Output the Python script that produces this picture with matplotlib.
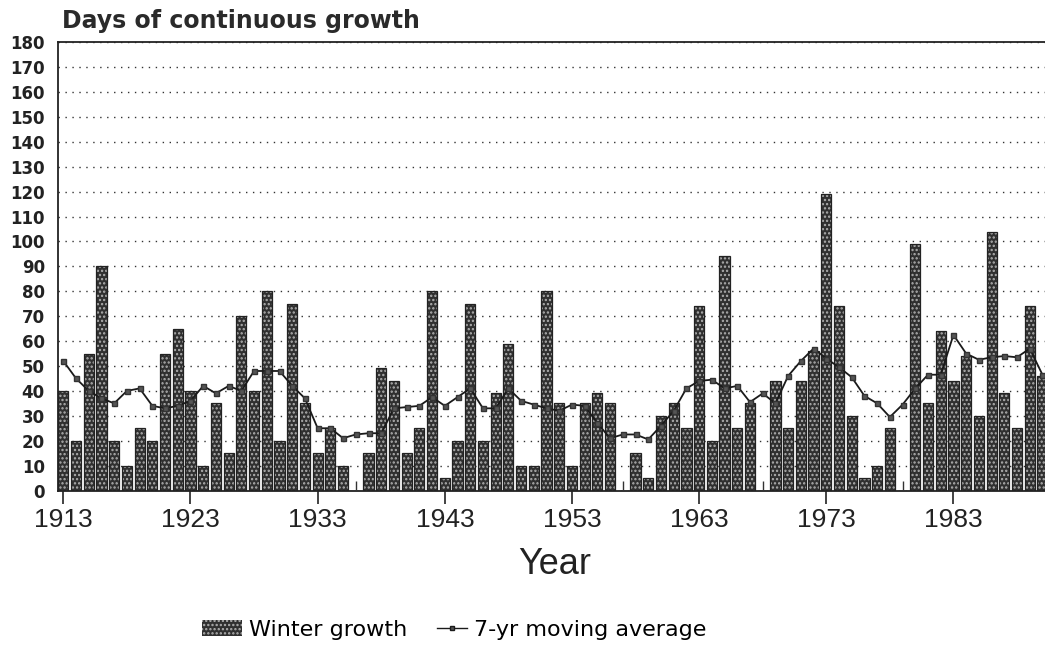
"""Winter growth: days of continuous growth per year with 7-yr moving average."""

import numpy as np
import matplotlib
matplotlib.use('Agg')
import matplotlib.pyplot as plt
from matplotlib.patches import Patch
from matplotlib.lines import Line2D

plt.rcParams['font.family'] = ['Liberation Sans', 'DejaVu Sans']
plt.rcParams['hatch.linewidth'] = 1.1

years = np.arange(1913, 1991)

winter_growth = [
    40, 20, 55, 90, 20, 10, 25, 20, 55, 65,   # 1913-1922
    40, 10, 35, 15, 70, 40, 80, 20, 75, 35,   # 1923-1932
    15, 25, 10, 0, 15, 49, 44, 15, 25, 80,    # 1933-1942
    5, 20, 75, 20, 39, 59, 10, 10, 80, 35,    # 1943-1952
    10, 35, 39, 35, 0, 15, 5, 30, 35, 25,     # 1953-1962
    74, 20, 94, 25, 35, 0, 44, 25, 44, 56,    # 1963-1972
    119, 74, 30, 5, 10, 25, 0, 99, 35, 64,    # 1973-1982
    44, 54, 30, 104, 39, 25, 74, 46,          # 1983-1990
]

moving_avg = [
    52, 45, 40, 37, 35, 40, 41, 34, 33, 34,
    36, 42, 39, 42, 40, 48, 48, 48, 42, 37,
    25, 25, 21, 22.5, 23, 23, 33, 33.5, 34, 37.5,
    34, 37.5, 41, 33, 33, 41, 36, 34.5, 33, 32,
    34.5, 34, 27, 21, 22.5, 22.5, 20.5, 26, 32, 41,
    44, 44.5, 41, 42, 35.5, 39, 35, 46, 52, 57,
    53, 49.5, 45.5, 38, 35, 29.5, 34.5, 41, 46.5, 46.5,
    62.5, 55, 52.5, 53.5, 54, 53.5, 57, 46.5,
]

tick_years = [1913, 1923, 1933, 1943, 1953, 1963, 1973, 1983]

BAR_FACE = '#303030'
BAR_DOTS = '#b0b0b0'
WIDE = ['DejaVu Sans']


def main() -> None:
    W, H = 1045, 659
    fig = plt.figure(figsize=(W / 100, H / 100), dpi=100)
    ax = fig.add_axes([58 / W, 1 - 490.5 / H, (W - 58) / W, (490.5 - 42.3) / H])

    vals = np.array(winter_growth, dtype=float)
    ax.bar(years, vals, width=0.8, color=BAR_FACE, edgecolor=BAR_DOTS,
           hatch='....', linewidth=0, zorder=2)
    ax.bar(years, vals, width=0.8, fill=False, edgecolor='#222222',
           linewidth=0.9, zorder=3)
    # zero years are marked with a short stub in the original
    zero_years = years[vals == 0]
    ax.vlines(zero_years, 0, 4, color='#333333', linewidth=1.0, zorder=3)

    ax.plot(years, moving_avg, color='#1a1a1a', linewidth=1.3, marker='s',
            markersize=3.6, markerfacecolor='#555555', markeredgecolor='#333333',
            zorder=4)

    ax.set_xlim(1912.58, 1990.2)
    ax.set_ylim(0, 180)
    ax.set_yticks(np.arange(0, 181, 10))
    ax.set_xticks(tick_years)
    ax.set_xticklabels([str(y) for y in tick_years], fontsize=19, color='#222222')
    ax.tick_params(axis='x', length=9.5, width=1.2, direction='out', pad=3,
                   colors='#222222')
    ax.tick_params(axis='y', length=0, pad=9.5, colors='#222222')
    for lab in ax.get_yticklabels():
        lab.set_fontweight('bold')
        lab.set_fontfamily(WIDE)
        lab.set_fontsize(12)

    ax.yaxis.grid(True, linestyle=(0, (1, 4)), linewidth=1.0, color='#333333')
    ax.set_axisbelow(True)
    ax.spines['right'].set_visible(False)
    for side in ('left', 'bottom', 'top'):
        ax.spines[side].set_linewidth(1.3)
        ax.spines[side].set_color('#222222')

    fig.text(62 / W, 1 - 28 / H, 'Days of continuous growth', fontsize=17,
             fontweight='bold', family=WIDE, color='#2a2a2a', ha='left',
             va='baseline')
    fig.text(555 / W, 1 - 565 / H, 'Year', fontsize=26, color='#222222',
             ha='center', va='center')

    bar_handle = Patch(facecolor=BAR_FACE, edgecolor=BAR_DOTS, hatch='....',
                       linewidth=0)
    line_handle = Line2D([], [], color='#1a1a1a', linewidth=1.0, marker='s',
                         markersize=3, markerfacecolor='#555555')
    common = dict(loc='center left', frameon=False, borderpad=0,
                  borderaxespad=0, prop={'family': WIDE, 'size': 16})
    fig.legend([bar_handle], ['Winter growth'],
               bbox_to_anchor=(202 / W, 1 - 630 / H), handlelength=1.8,
               handleheight=0.7, handletextpad=0.3, **common)
    fig.legend([line_handle], ['7-yr moving average'],
               bbox_to_anchor=(437 / W, 1 - 630 / H), handlelength=1.35,
               handletextpad=0.3, **common)

    fig.savefig('out.png', dpi=100)
    plt.close(fig)


if __name__ == '__main__':
    main()
